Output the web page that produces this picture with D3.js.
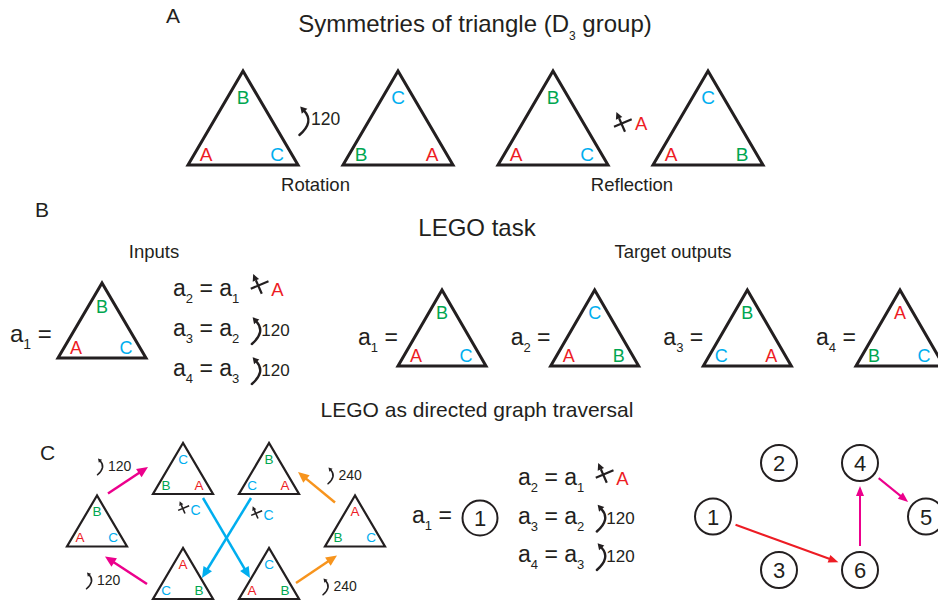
<!DOCTYPE html>
<html>
<head>
<meta charset="utf-8">
<script src="https://cdn.jsdelivr.net/npm/d3@7/dist/d3.min.js"></script>
<style>
html,body{margin:0;padding:0;background:#fff;}
svg{display:block;}
text{font-family:"Liberation Sans",Arial,Helvetica,sans-serif;white-space:pre;}
</style>
</head>
<body>
<svg id="chart" width="938" height="602"></svg>
<script>
// ================= DATA =================
const panelLetters = ["A", "B", "C"];
const titleA = ["Symmetries of triangle (D", "3", " group)"];
const titleB = "LEGO task";
const titleC = "LEGO as directed graph traversal";
// triangle labels: [top, left, right]
const symmetryTriangles = [["B","A","C"], ["C","B","A"], ["B","A","C"], ["C","A","B"]];
const symmetryOps = [
  {op: "rot", arg: "120", caption: "Rotation"},
  {op: "refl", arg: "A", caption: "Reflection"}
];
const subHeadings = ["Inputs", "Target outputs"];
const inputTriangle = ["B","A","C"];
const equations = [
  {lhs: "2", rhs: "1", op: "refl", arg: "A"},
  {lhs: "3", rhs: "2", op: "rot", arg: "120"},
  {lhs: "4", rhs: "3", op: "rot", arg: "120"}
];
const targetNames = ["1","2","3","4"];
const targetTriangles = [["B","A","C"], ["C","A","B"], ["B","C","A"], ["A","B","C"]];
const stateTriangles = [["B","A","C"], ["C","B","A"], ["B","C","A"], ["A","B","C"], ["A","C","B"], ["C","A","B"]];
const transitions = [
  {from: 0, to: 1, op: "rot", arg: "120"},
  {from: 4, to: 0, op: "rot", arg: "120"},
  {from: 5, to: 3, op: "rot", arg: "240"},
  {from: 3, to: 2, op: "rot", arg: "240"},
  {from: 1, to: 5, op: "refl", arg: "C"},
  {from: 2, to: 4, op: "refl", arg: "C"}
];
const graphNodes = ["1","2","3","4","5","6"];
const graphPath = ["1","6","4","5"];

// ================= STYLE / LAYOUT =================
const INK = "#231f20";
const LETTER_COLOR = {A: "#ed1c24", B: "#00a651", C: "#00aeef"};
const TRANS_COLOR = ["#ec008c", "#ec008c", "#f7941d", "#f7941d", "#00aeef", "#00aeef"];
const EDGE_COLOR = {refl: "#ed1c24", rot: "#ec008c"};

const svg = d3.select("#chart");

function addText(g, x, y, str, fs, o = {}) {
  return g.append("text").attr("x", x).attr("y", y).attr("font-size", fs)
    .attr("fill", o.fill || INK).attr("text-anchor", o.anchor || "start").text(str);
}
function addRichText(g, x, y, parts, fs, o = {}) {
  const t = g.append("text").attr("x", x).attr("y", y).attr("font-size", fs)
    .attr("fill", o.fill || INK).attr("text-anchor", o.anchor || "start");
  const drop = o.drop ?? fs * 0.3, subFs = o.subFs ?? fs * 0.57;
  let inSub = false;
  parts.forEach(([s, isSub]) => {
    const ts = t.append("tspan").text(s);
    if (isSub) { ts.attr("font-size", subFs); if (!inSub) ts.attr("dy", drop); inSub = true; }
    else { if (inSub) ts.attr("dy", -drop); inSub = false; }
  });
  return t;
}
function triangle(g, ax, ay, spec, labels) {
  const {w, h, sw, fs, top, bot, lx, rx} = spec;
  g.append("path").attr("d", `M${ax},${ay}L${ax - w / 2},${ay + h}L${ax + w / 2},${ay + h}Z`)
    .attr("fill", "none").attr("stroke", INK).attr("stroke-width", sw).attr("stroke-linejoin", "miter");
  const off = fs * 0.36;
  const pos = [[ax, ay + top], [ax - w / 2 + lx, ay + h - bot], [ax + w / 2 - rx, ay + h - bot]];
  labels.forEach((L, i) => addText(g, pos[i][0], pos[i][1] + off, L, fs, {fill: LETTER_COLOR[L], anchor: "middle"}));
}
function rotSymbol(g, tx, ty, H, sw) {
  const k = H / 30;
  const P = (x, y) => [tx + x * k, ty + y * k];
  const S = [-2.6, 30], C = [12.5, 17], E = [2.6, 6.2];
  let dx = E[0] - C[0], dy = E[1] - C[1];
  const L = Math.hypot(dx, dy); dx /= L; dy /= L;
  const hl = 6.5, hw = 3.8;
  const T = [E[0] + dx * hl, E[1] + dy * hl];
  const B1 = [E[0] - dy * hw, E[1] + dx * hw], B2 = [E[0] + dy * hw, E[1] - dx * hw];
  g.append("path").attr("d", `M${P(...S)}Q${P(...C)} ${P(E[0] + dx * 0.5, E[1] + dy * 0.5)}`)
    .attr("fill", "none").attr("stroke", INK).attr("stroke-width", sw).attr("stroke-linecap", "round");
  g.append("path").attr("d", `M${P(...T)}L${P(...B1)}L${P(...B2)}Z`).attr("fill", INK);
}
function reflSymbol(g, cx, cy, s, sw) {
  const P = (x, y) => [cx + x * s, cy + y * s];
  g.append("path").attr("d", `M${P(4, 7.2)}L${P(-1.9, -6.3)}M${P(-7, 2.2)}L${P(10.7, -5.2)}`)
    .attr("fill", "none").attr("stroke", INK).attr("stroke-width", sw);
  g.append("path").attr("d", `M${P(-4.6, -12.5)}L${P(1.3, -7.6)}L${P(-5.1, -4.8)}Z`).attr("fill", INK);
}
function arrow(g, x1, y1, x2, y2, color, sw, hl, hw) {
  const dx = x2 - x1, dy = y2 - y1, L = Math.hypot(dx, dy), ux = dx / L, uy = dy / L;
  const bx = x2 - ux * hl, by = y2 - uy * hl;
  g.append("line").attr("x1", x1).attr("y1", y1).attr("x2", bx + ux).attr("y2", by + uy)
    .attr("stroke", color).attr("stroke-width", sw);
  g.append("path").attr("d", `M${x2},${y2}L${bx - uy * hw / 2},${by + ux * hw / 2}L${bx + uy * hw / 2},${by - ux * hw / 2}Z`)
    .attr("fill", color);
}
function equation(g, x, y, eq, fs) {
  const t = addRichText(g, x, y, [["a"], [eq.lhs, true], [" = a"], [eq.rhs, true]], fs, {drop: 7, subFs: 13});
  const end = x + t.node().getComputedTextLength();
  if (eq.op === "refl") {
    reflSymbol(g, end + 18.5, y - 9.5, 1, 2.2);
    addText(g, end + 32, y, eq.arg, 18.5, {fill: LETTER_COLOR[eq.arg]});
  } else {
    rotSymbol(g, end + 15, y - 20, 28, 2.4);
    addText(g, end + 22, y, eq.arg, 17);
  }
}

// ---------- Panel A ----------
const gA = svg.append("g");
addText(gA, 166, 23, panelLetters[0], 21);
addRichText(gA, 475, 32, [[titleA[0], false], [titleA[1], true], [titleA[2], false]], 24, {anchor: "middle", drop: 8, subFs: 12});
const xA = d3.scalePoint().domain(d3.range(symmetryTriangles.length)).range([243, 708]);
const specA = {w: 110, h: 94, sw: 3, fs: 19, top: 26, bot: 11, lx: 18, rx: 21};
symmetryTriangles.forEach((lab, i) => triangle(gA, xA(i), 71, specA, lab));
const captionShift = [-5, 1.5];
symmetryOps.forEach((op, j) => {
  const mid = (xA(2 * j) + xA(2 * j + 1)) / 2;
  if (op.op === "rot") { rotSymbol(gA, mid - 18.5, 105, 30, 2.4); addText(gA, mid - 9.5, 125, op.arg, 17.5); }
  else { reflSymbol(gA, mid - 9.5, 124.5, 1, 2.2); addText(gA, mid + 4.5, 130, op.arg, 18.5, {fill: LETTER_COLOR[op.arg]}); }
  addText(gA, mid + captionShift[j], 191, op.caption, 18.5, {anchor: "middle"});
});

// ---------- Panel B ----------
const gB = svg.append("g");
addText(gB, 35, 217, panelLetters[1], 21);
addText(gB, 477, 236, titleB, 24, {anchor: "middle"});
addText(gB, 154, 258, subHeadings[0], 18.5, {anchor: "middle"});
addText(gB, 673, 258, subHeadings[1], 18.5, {anchor: "middle"});
addRichText(gB, 10, 342, [["a"], ["1", true], [" ="]], 24, {drop: 7, subFs: 14});
const specB = {w: 88, h: 75, sw: 3, fs: 18, top: 24, bot: 10, lx: 18, rx: 20};
triangle(gB, 102, 283, specB, inputTriangle);
const yEqB = d3.scalePoint().domain(d3.range(equations.length)).range([296, 376]);
equations.forEach((eq, i) => equation(gB, 173, yEqB(i), eq, 23));
const xT = d3.scalePoint().domain(targetNames).range([442, 900]);
const specT = {w: 88, h: 76, sw: 3, fs: 18, top: 23, bot: 10, lx: 18, rx: 20};
targetTriangles.forEach((lab, i) => {
  const n = targetNames[i];
  addRichText(gB, xT(n) - 84, 345, [["a"], [n, true], [" ="]], 23, {drop: 7, subFs: 13});
  triangle(gB, xT(n), 290, specT, lab);
});

// ---------- Panel C ----------
const gC = svg.append("g");
addText(gC, 477, 417, titleC, 21, {anchor: "middle"});
addText(gC, 40, 460, panelLetters[2], 21);
const cellX = d3.scalePoint().domain([0, 1, 2, 3]).range([97, 355]);
const cellY = d3.scalePoint().domain([0, 1, 2]).range([443, 548]);
const stateCells = [[0, 1], [1, 0], [2, 0], [3, 1], [1, 2], [2, 2]];
const apex = stateCells.map(([c, r]) => [cellX(c), cellY(r)]);
const specC = {w: 60, h: 51, sw: 2.2, fs: 13.5, top: 16, bot: 9, lx: 13, rx: 14};
stateTriangles.forEach((lab, i) => triangle(gC, apex[i][0], apex[i][1], specC, lab));
const anchorOffsets = [[[11, -2], [-35, 24]], [[-36, 36], [8, 61]], [[27, 35], [-18, 60]],
                       [[-20, 7], [29, 29]], [[20, 55], [-19, 30]], [[-18, 55], [19, 30]]];
const labelOffsets = [[-29, -22.5], [-38, 1.5], [8, 8.5], [13, -20.5], [-44, -29], [29, -24]];
transitions.forEach((t, i) => {
  const [so, eo] = anchorOffsets[i];
  const x1 = apex[t.from][0] + so[0], y1 = apex[t.from][1] + so[1];
  const x2 = apex[t.to][0] + eo[0], y2 = apex[t.to][1] + eo[1];
  arrow(gC, x1, y1, x2, y2, TRANS_COLOR[i], 2.5, 11, 10);
  const mx = (x1 + x2) / 2 + labelOffsets[i][0], my = (y1 + y2) / 2 + labelOffsets[i][1];
  if (t.op === "rot") { rotSymbol(gC, mx, my, 17, 1.6); addText(gC, mx + 9, my + 13, t.arg, 14); }
  else { reflSymbol(gC, mx, my, 0.62, 1.6); addText(gC, mx + 8, my + 6, t.arg, 14, {fill: LETTER_COLOR[t.arg]}); }
});

// equations with graph nodes
addRichText(gC, 412, 523, [["a"], ["1", true], [" ="]], 23, {drop: 7, subFs: 13});
function node(g, cx, cy, r, label) {
  g.append("circle").attr("cx", cx).attr("cy", cy).attr("r", r).attr("fill", "#fff").attr("stroke", INK).attr("stroke-width", 2);
  addText(g, cx, cy + 8, label, 22, {anchor: "middle"});
}
node(gC, 480, 518, 17.5, graphPath[0]);
const yEqC = d3.scalePoint().domain(d3.range(equations.length)).range([485, 562]);
equations.forEach((eq, i) => equation(gC, 518, yEqC(i), eq, 23));

// graph
const nodeCell = {"1": [0, 1], "2": [1, 0], "3": [1, 2], "4": [2, 0], "5": [3, 1], "6": [2, 2]};
const gx = d3.scaleOrdinal().domain([0, 1, 2, 3]).range([713, 779, 860, 926]);
const gy = d3.scalePoint().domain([0, 1, 2]).range([463, 570]);
const npos = n => [gx(nodeCell[n][0]), gy(nodeCell[n][1])];
graphNodes.forEach(n => node(gC, npos(n)[0], npos(n)[1], 18, n));
for (let i = 0; i < graphPath.length - 1; i++) {
  const [ax, ay] = npos(graphPath[i]), [bx, by] = npos(graphPath[i + 1]);
  const L = Math.hypot(bx - ax, by - ay), ux = (bx - ax) / L, uy = (by - ay) / L;
  arrow(gC, ax + ux * 24, ay + uy * 24, bx - ux * 23, by - uy * 23, EDGE_COLOR[equations[i].op], 2, 10, 8);
}
</script>
</body>
</html>
